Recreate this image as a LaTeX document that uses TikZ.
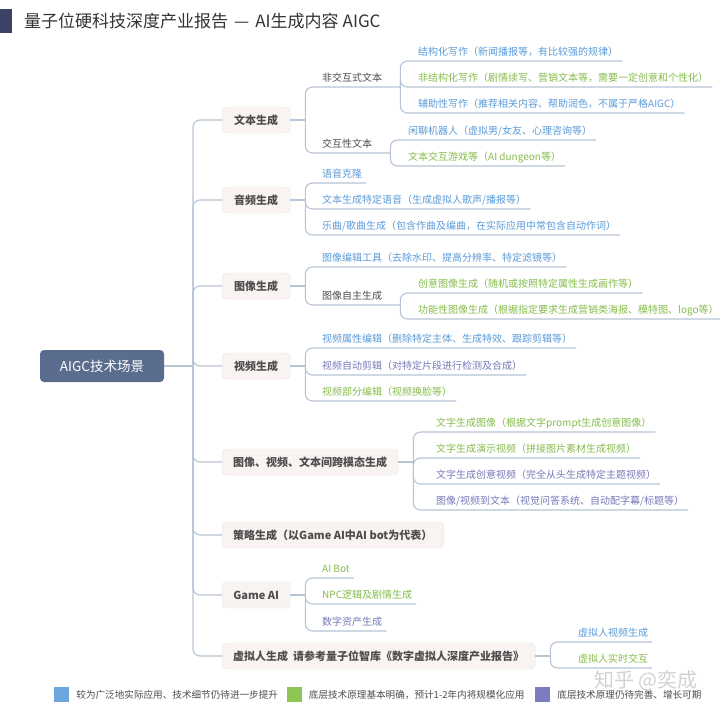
\documentclass[tikz,border=0pt]{standalone}
\usepackage{fontspec}
\setmainfont{Noto Sans CJK SC}
\usetikzlibrary{positioning}

\definecolor{linkgray}{HTML}{B7C4D6}
\definecolor{leafblue}{HTML}{5A9BD8}
\definecolor{leafgreen}{HTML}{86BC4C}
\definecolor{leafpurple}{HTML}{7878BA}
\definecolor{leafdark}{HTML}{4D4D4D}
\definecolor{rootfill}{HTML}{5A6D8E}
\definecolor{boxfill}{HTML}{F9F4F2}
\definecolor{boxline}{HTML}{ECE3DF}
\definecolor{titlebar}{HTML}{3C4265}
\definecolor{legblue}{HTML}{6CA6DD}
\definecolor{leggreen}{HTML}{8DC655}
\definecolor{legpurple}{HTML}{7B7DC0}

\tikzset{
  link/.style={linkgray,line width=1.1pt,rounded corners=7pt},
  rootbox/.style={fill=rootfill,rounded corners=4pt,minimum width=124pt,minimum height=32pt,
    text=white,font=\fontsize{13.5}{15}\selectfont},
  branch/.style={draw=boxline,fill=boxfill,rounded corners=4pt,anchor=west,minimum height=26pt,
    minimum width=68pt,inner xsep=11pt,text=leafdark,font=\fontsize{11}{13}\selectfont\bfseries},
  leaf/.style={anchor=base west,inner sep=0pt,yshift=6pt,font=\fontsize{10}{12}\selectfont},
  legsq/.style={minimum width=15pt,minimum height=15pt,inner sep=0pt},
  legtext/.style={right=7pt of #1,inner sep=0pt,text=leafdark,font=\fontsize{9.6}{11}\selectfont}
}

\begin{document}
\begin{tikzpicture}[x=1pt,y=-1pt]
  \useasboundingbox[fill=white] (0,0) rectangle (720,713);

  % Title
  \fill[titlebar] (0,9) rectangle (12,33);
  \node[anchor=west,inner sep=0pt,text=black!80,font=\fontsize{17}{20}\selectfont] (title) at (24,21)
    {量子位硬科技深度产业报告\hspace{6pt}—\hspace{6pt}AI生成内容\hspace{4pt}AIGC};

  % Root and trunk
  \node[rootbox] (root) at (102,366) {AIGC技术场景};
  \coordinate (trunk) at (193,366);
  \draw[link] (root.east) -- (trunk);

  % Branches
  \foreach \nm/\y/\tx in {
    b1/120/文本生成,
    b2/200/音频生成,
    b3/286/图像生成,
    b4/366/视频生成,
    b5/462/图像、视频、文本间跨模态生成,
    b6/535/策略生成（以Game AI中AI bot为代表）,
    b7/595/Game AI,
    b8/656/{虚拟人生成\hspace{5pt}请参考量子位智库《数字虚拟人深度产业报告》}} {
    \node[branch] (\nm) at (222,\y) {\tx};
    \draw[link] (trunk) |- (\nm.west);
  }

  % Forks next to the branches
  \foreach \nm in {1,2,3,4,5,7,8} {
    \coordinate (f\nm) at ([xshift=15pt]b\nm.east);
    \draw[link] (b\nm.east) -- (f\nm);
  }

  % Text generation
  \foreach \nm/\y/\tx in {
    p1/87/非交互式文本,
    p2/153/交互性文本} {
    \node[leaf,text=leafdark] (\nm) at (322,\y) {\tx};
    \coordinate (s\nm) at ([xshift=18pt,yshift=-6pt]\nm.base east);
    \draw[link] (f1) |- (s\nm);
  }
  \foreach \nm/\y/\cl/\tx in {
    a1/61/leafblue/结构化写作（新闻播报等，有比较强的规律）,
    a2/87/leafgreen/非结构化写作（剧情续写、营销文本等，需要一定创意和个性化）,
    a3/113/leafblue/辅助性写作（推荐相关内容、帮助润色，不属于严格AIGC）} {
    \node[leaf,text=\cl] (\nm) at (418,\y) {\tx};
    \draw[link] (sp1) |- ([xshift=4pt,yshift=-6pt]\nm.base east);
  }
  \foreach \nm/\y/\cl/\tx in {
    a4/140/leafblue/{闲聊机器人（虚拟男/女友、心理咨询等）},
    a5/166/leafgreen/文本交互游戏等（AI dungeon等）} {
    \node[leaf,text=\cl] (\nm) at (408,\y) {\tx};
    \draw[link] (sp2) |- ([xshift=4pt,yshift=-6pt]\nm.base east);
  }

  % Audio generation
  \foreach \nm/\y/\cl/\tx in {
    c1/183/leafblue/语音克隆,
    c2/209/leafblue/{文本生成特定语音（生成虚拟人歌声/播报等）},
    c3/235/leafblue/{乐曲/歌曲生成（包含作曲及编曲，在实际应用中常包含自动作词）}} {
    \node[leaf,text=\cl] (\nm) at (322,\y) {\tx};
    \draw[link] (f2) |- ([xshift=4pt,yshift=-6pt]\nm.base east);
  }

  % Image generation
  \node[leaf,text=leafblue] (d1) at (322,267) {图像编辑工具（去除水印、提高分辨率、特定滤镜等）};
  \draw[link] (f3) |- ([xshift=4pt,yshift=-6pt]d1.base east);
  \node[leaf,text=leafdark] (p3) at (322,305) {图像自主生成};
  \coordinate (sp3) at ([xshift=18pt,yshift=-6pt]p3.base east);
  \draw[link] (f3) |- (sp3);
  \foreach \nm/\y/\tx in {
    d2/293/创意图像生成（随机或按照特定属性生成画作等）,
    d3/319/功能性图像生成（根据指定要求生成营销类海报、模特图、logo等）} {
    \node[leaf,text=leafgreen] (\nm) at (418,\y) {\tx};
    \draw[link] (sp3) |- ([xshift=4pt,yshift=-6pt]\nm.base east);
  }

  % Video generation
  \foreach \nm/\y/\cl/\tx in {
    e1/348/leafblue/视频属性编辑（删除特定主体、生成特效、跟踪剪辑等）,
    e2/375/leafpurple/视频自动剪辑（对特定片段进行检测及合成）,
    e3/401/leafgreen/视频部分编辑（视频换脸等）} {
    \node[leaf,text=\cl] (\nm) at (322,\y) {\tx};
    \draw[link] (f4) |- ([xshift=4pt,yshift=-6pt]\nm.base east);
  }

  % Cross-modal generation
  \foreach \nm/\y/\cl/\tx in {
    g1/432/leafgreen/文字生成图像（根据文字prompt生成创意图像）,
    g2/458/leafgreen/文字生成演示视频（拼接图片素材生成视频）,
    g3/484/leafpurple/文字生成创意视频（完全从头生成特定主题视频）,
    g4/510/leafpurple/{图像/视频到文本（视觉问答系统、自动配字幕/标题等）}} {
    \node[leaf,text=\cl] (\nm) at (436,\y) {\tx};
    \draw[link] (f5) |- ([xshift=4pt,yshift=-6pt]\nm.base east);
  }

  % Game AI
  \foreach \nm/\y/\cl/\tx in {
    h1/578/leafgreen/AI Bot,
    h2/604/leafgreen/NPC逻辑及剧情生成,
    h3/631/leafpurple/数字资产生成} {
    \node[leaf,text=\cl] (\nm) at (322,\y) {\tx};
    \draw[link] (f7) |- ([xshift=4pt,yshift=-6pt]\nm.base east);
  }

  % Virtual humans
  \foreach \nm/\y/\cl/\tx in {
    k1/642/leafblue/虚拟人视频生成,
    k2/668/leafgreen/虚拟人实时交互} {
    \node[leaf,text=\cl] (\nm) at (578,\y) {\tx};
    \draw[link] (f8) |- ([xshift=4pt,yshift=-6pt]\nm.base east);
  }

  % Legend
  \node[legsq,fill=legblue] (q1) at (61.5,694.5) {};
  \node[legtext=q1] (l1) {较为广泛地实际应用、技术细节仍待进一步提升};
  \node[legsq,fill=leggreen] (q2) at (294,694.5) {};
  \node[legtext=q2] (l2) {底层技术原理基本明确，预计1-2年内将规模化应用};
  \node[legsq,fill=legpurple] (q3) at (542.5,694.5) {};
  \node[legtext=q3] (l3) {底层技术原理仍待完善、增长可期};

  % Watermark
  \node[text=black!22,opacity=.8,font=\fontsize{20}{22}\selectfont] (mark) at (646,681) {知乎 @奕成};
\end{tikzpicture}
\end{document}
